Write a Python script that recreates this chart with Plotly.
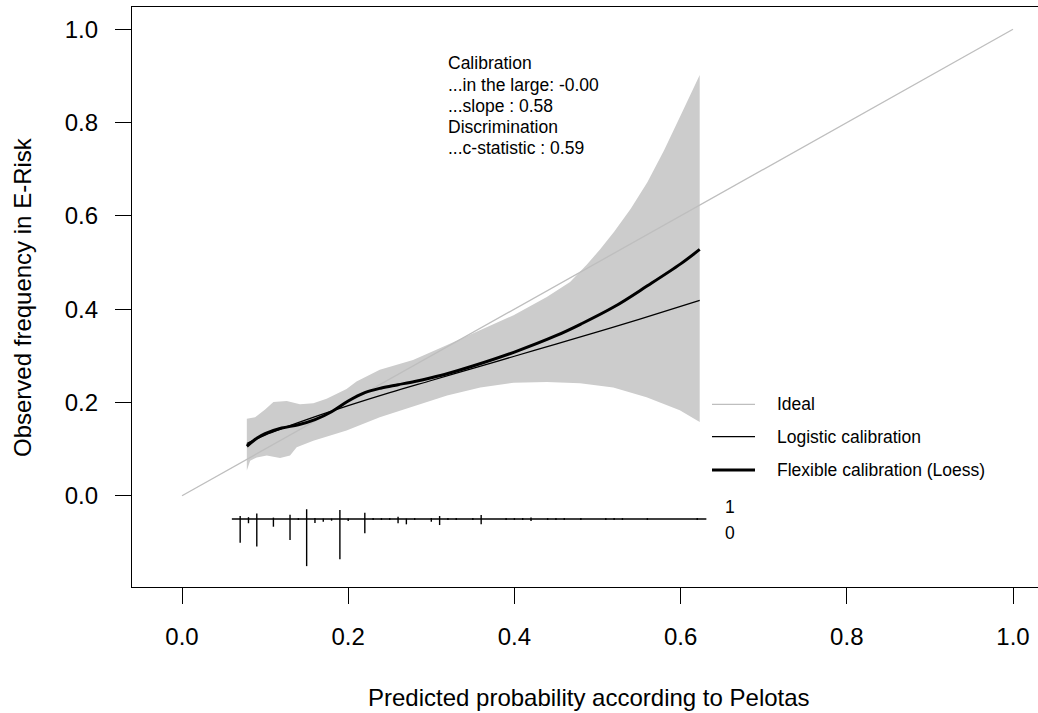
import plotly.graph_objects as go

# ---------------- data ----------------
ideal_x = [0.0, 1.0]
ideal_y = [0.0, 1.0]

logistic_x = [0.078, 0.10, 0.15, 0.20, 0.25, 0.30, 0.35, 0.40, 0.45, 0.50, 0.55, 0.623]
logistic_y = [0.112, 0.130, 0.163, 0.193, 0.221, 0.247, 0.273, 0.299, 0.325, 0.351, 0.378, 0.419]

loess_x = [0.078, 0.09, 0.10, 0.12, 0.14, 0.16, 0.18, 0.20, 0.22, 0.24, 0.26, 0.28,
           0.30, 0.32, 0.35, 0.40, 0.45, 0.48, 0.52, 0.56, 0.60, 0.623]
loess_y = [0.106, 0.123, 0.133, 0.145, 0.152, 0.163, 0.180, 0.203, 0.221, 0.231, 0.238, 0.245,
           0.253, 0.262, 0.278, 0.308, 0.343, 0.368, 0.405, 0.450, 0.497, 0.528]

upper_x = [0.078, 0.088, 0.10, 0.11, 0.126, 0.142, 0.158, 0.174, 0.198, 0.21, 0.238, 0.278,
           0.319, 0.359, 0.399, 0.439, 0.467, 0.487, 0.503, 0.52, 0.54, 0.56, 0.58, 0.60, 0.623]
upper_y = [0.165, 0.168, 0.185, 0.201, 0.203, 0.196, 0.198, 0.208, 0.229, 0.245, 0.270, 0.291,
           0.323, 0.355, 0.387, 0.426, 0.458, 0.495, 0.528, 0.566, 0.615, 0.672, 0.740, 0.815, 0.902]

lower_x = [0.078, 0.082, 0.09, 0.102, 0.118, 0.13, 0.138, 0.158, 0.198, 0.238, 0.278,
           0.319, 0.359, 0.399, 0.439, 0.479, 0.519, 0.559, 0.599, 0.623]
lower_y = [0.054, 0.075, 0.082, 0.086, 0.081, 0.086, 0.104, 0.118, 0.140, 0.168, 0.192,
           0.215, 0.232, 0.242, 0.244, 0.241, 0.232, 0.211, 0.183, 0.158]

# rug: bins of predicted probability, length of tick for events (1, up) and non-events (0, down)
rug_x = [0.07, 0.08, 0.09, 0.11, 0.13, 0.14, 0.15, 0.16, 0.17, 0.18, 0.19, 0.20, 0.22,
         0.23, 0.24, 0.25, 0.26, 0.27, 0.28, 0.30, 0.31, 0.32, 0.33, 0.35, 0.36, 0.39,
         0.40, 0.41, 0.42, 0.44, 0.45, 0.46, 0.48, 0.51, 0.52, 0.53, 0.56, 0.62]
rug_up = [0.0065, 0.004, 0.012, 0.003, 0.009, 0.002, 0.021, 0.002, 0.001, 0.001, 0.0193, 0.001, 0.0135,
          0.002, 0.002, 0.002, 0.005, 0.001, 0.002, 0.002, 0.0064, 0.002, 0.002, 0.002, 0.0086, 0.002,
          0.002, 0.002, 0.003, 0.002, 0.002, 0.002, 0.002, 0.002, 0.002, 0.002, 0.002, 0.002]
rug_down = [0.051, 0.009, 0.059, 0.0165, 0.045, 0.002, 0.101, 0.0086, 0.006, 0.0036, 0.0864, 0.004, 0.0307,
            0.002, 0.002, 0.002, 0.009, 0.0114, 0.002, 0.0058, 0.0129, 0.002, 0.002, 0.002, 0.0114, 0.002,
            0.002, 0.002, 0.004, 0.002, 0.002, 0.002, 0.002, 0.002, 0.002, 0.002, 0.002, 0.002]
rug_base = -0.05
rug_span = [0.06, 0.631]

stats_text = ["Calibration", "...in the large: -0.00", "...slope : 0.58",
              "Discrimination", "...c-statistic : 0.59"]
legend_labels = ["Ideal", "Logistic calibration", "Flexible calibration (Loess)"]

tick_vals = [0.0, 0.2, 0.4, 0.6, 0.8, 1.0]
tick_text = ["0.0", "0.2", "0.4", "0.6", "0.8", "1.0"]

x_title = "Predicted probability according to Pelotas"
y_title = "Observed frequency in E-Risk"

FONT = "Liberation Sans, Arial, Helvetica, sans-serif"
BAND = "#cccccc"
IDEAL = "#bebebe"
TXT = 17.5
AX = 24

fig = go.Figure()

# confidence band
fig.add_trace(go.Scatter(
    x=upper_x + lower_x[::-1], y=upper_y + lower_y[::-1],
    fill="toself", fillcolor=BAND, line=dict(width=0), mode="lines",
    hoverinfo="skip", showlegend=False))

# ideal
fig.add_trace(go.Scatter(x=ideal_x, y=ideal_y, mode="lines",
                         line=dict(color=IDEAL, width=1.3), showlegend=False))
# logistic
fig.add_trace(go.Scatter(x=logistic_x, y=logistic_y, mode="lines", line_shape="spline",
                         line=dict(color="black", width=1.3), showlegend=False))
# loess
fig.add_trace(go.Scatter(x=loess_x, y=loess_y, mode="lines", line_shape="spline",
                         line=dict(color="black", width=3), showlegend=False))

# rug
rx, ry = [rug_span[0], rug_span[1], None], [rug_base, rug_base, None]
for xv, u, d in zip(rug_x, rug_up, rug_down):
    rx += [xv, xv, None]
    ry += [rug_base + u, rug_base - d, None]
fig.add_trace(go.Scatter(x=rx, y=ry, mode="lines", line=dict(color="black", width=1.4),
                         hoverinfo="skip", showlegend=False))

# pixel helpers for layout placement (page pixels)
def dx(px):
    return (px - 182) / 831.0

def dy(py):
    return (495.7 - py) / 466.4

def pxp(px):
    return (px - 132) / 906.0

def pyp(py):
    return (587 - py) / 580.0

annotations = []
shapes = []

# stats text block, one line per annotation
for i, line in enumerate(stats_text):
    annotations.append(dict(x=dx(445.5), y=dy(63.3 + 21.2 * i), xref="x", yref="y",
                            xanchor="left", yanchor="middle", align="left", showarrow=False,
                            text=line, font=dict(family=FONT, size=TXT, color="black")))

# legend
leg_y = [404.3, 436.7, 470.0]
leg_col = [IDEAL, "black", "black"]
leg_w = [1.3, 1.3, 3]
for lab, yy, c, w in zip(legend_labels, leg_y, leg_col, leg_w):
    shapes.append(dict(type="line", xref="x", yref="y", x0=dx(712), x1=dx(755),
                       y0=dy(yy), y1=dy(yy), line=dict(color=c, width=w)))
    annotations.append(dict(x=dx(775), y=dy(yy), xref="x", yref="y", xanchor="left",
                            yanchor="middle", showarrow=False, text=lab,
                            font=dict(family=FONT, size=TXT, color="black")))

# rug labels
annotations.append(dict(x=dx(730), y=dy(507.3), xref="x", yref="y", showarrow=False,
                        text="1", font=dict(family=FONT, size=TXT, color="black")))
annotations.append(dict(x=dx(730), y=dy(533.3), xref="x", yref="y", showarrow=False,
                        text="0", font=dict(family=FONT, size=TXT, color="black")))

# axis titles
annotations.append(dict(x=pxp(589), y=pyp(697), xref="paper", yref="paper", showarrow=False,
                        xanchor="center", yanchor="middle", text=x_title,
                        font=dict(family=FONT, size=AX, color="black")))
annotations.append(dict(x=pxp(22), y=pyp(297), xref="paper", yref="paper", showarrow=False,
                        xanchor="center", yanchor="middle", textangle=-90, text=y_title,
                        font=dict(family=FONT, size=AX, color="black")))

fig.update_layout(
    width=1038, height=713,
    margin=dict(l=132, r=0, t=7, b=126, pad=0),
    paper_bgcolor="white", plot_bgcolor="white",
    font=dict(family=FONT, size=AX, color="black"),
    annotations=annotations, shapes=shapes, showlegend=False,
)
fig.update_xaxes(range=[dx(132), dx(1038)], tickvals=tick_vals, ticktext=tick_text,
                 ticks="outside", ticklen=16, tickwidth=1.3, tickcolor="black",
                 showline=True, linecolor="black", linewidth=1.3, mirror=True,
                 showgrid=False, zeroline=False, ticklabelstandoff=12,
                 tickfont=dict(family=FONT, size=AX, color="black"))
fig.update_yaxes(range=[dy(587), dy(7)], tickvals=tick_vals, ticktext=tick_text,
                 ticks="outside", ticklen=16, tickwidth=1.3, tickcolor="black",
                 showline=True, linecolor="black", linewidth=1.3, mirror=False,
                 showgrid=False, zeroline=False, ticklabelstandoff=12,
                 tickfont=dict(family=FONT, size=AX, color="black"))

fig.write_html("out.html", config={"displayModeBar": False},
               post_script="document.body.style.margin='0';")
